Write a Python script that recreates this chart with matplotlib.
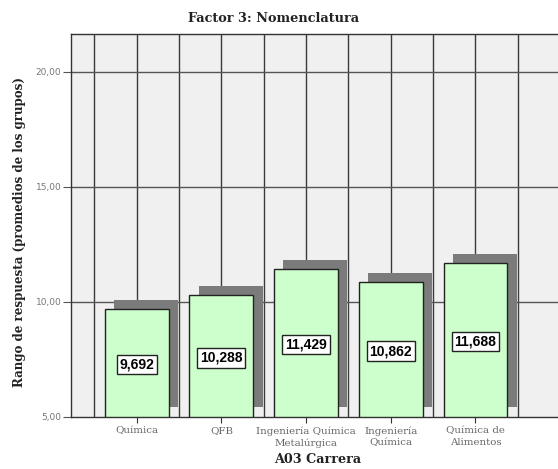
import numpy as np
import matplotlib.pyplot as plt
from matplotlib.ticker import FuncFormatter

categorias = ["Química", "QFB", "Ingeniería Química\nMetalúrgica",
              "Ingeniería\nQuímica", "Química de\nAlimentos"]
valores = [9.692, 10.288, 11.429, 10.862, 11.688]
y_ticks = [5, 10, 15, 20]

base = 5.0
fig = plt.figure(figsize=(5.58, 4.69), dpi=100)
ax = fig.add_axes([71 / 558, 52.3 / 469, 1 - 71 / 558 + 0.01, (416.7 - 34.3) / 469])
ax.set_facecolor("#f0f0f0")

x = np.arange(len(categorias))
ancho = 0.755
dx, dy = 0.11, 0.405  # desplazamiento de la sombra

# gridlines
for g in np.arange(-0.5, 4.6, 0.5):
    ax.axvline(g, color="#3a3a3a", lw=1.0, zorder=1)
for t in y_ticks[1:]:
    ax.axhline(t, color="#555555", lw=1.0, zorder=1)

alturas = [v - base for v in valores]
ax.bar(x + dx, alturas, width=ancho, bottom=base + dy, color="#7b7b7b",
       edgecolor="none", zorder=2)
ax.bar(x, alturas, width=ancho, bottom=base, color="#ccffcc",
       edgecolor="#222222", linewidth=1.0, zorder=3)

for xi, v in zip(x, valores):
    ax.text(xi, (base + v) / 2 - 0.08, f"{v:.3f}".replace(".", ","),
            ha="center", va="center", fontsize=10, fontweight="bold",
            family="Liberation Sans", zorder=4,
            bbox=dict(boxstyle="square,pad=0.2", fc="white", ec="#222222", lw=1.0))

ax.set_xlim(-0.776, 5.04)
ax.set_ylim(base, 21.64)
ax.set_xticks(x)
ax.set_xticklabels(categorias, fontsize=7.4, color="#666666", family="DejaVu Serif",
                   linespacing=1.3)
ax.set_yticks(y_ticks)
ax.yaxis.set_major_formatter(FuncFormatter(lambda v, p: f"{v:.2f}".replace(".", ",")))
ax.tick_params(axis="y", labelsize=6.5, labelcolor="#777777", color="#555555",
               length=6, pad=1)
ax.tick_params(axis="x", color="#333333", length=4.5, pad=2.5)

for s in ["left", "top", "bottom"]:
    ax.spines[s].set_color("#333333")
    ax.spines[s].set_linewidth(1.0)
ax.spines["right"].set_visible(False)

ax.set_xlabel("A03 Carrera", fontsize=9.2, fontweight="bold", family="DejaVu Serif",
              labelpad=4, color="#222222")
ax.set_ylabel("Rango de respuesta (promedios de los grupos)", fontsize=8.6,
              fontweight="bold", family="DejaVu Serif", color="#222222")
ax.yaxis.set_label_coords(-0.091, 0.4817)
fig.text(0.49, 1 - 19 / 469, "Factor 3: Nomenclatura", ha="center", va="center",
         fontsize=9.3, fontweight="bold", family="DejaVu Serif", color="#222222")

fig.savefig("out.png", dpi=100)
